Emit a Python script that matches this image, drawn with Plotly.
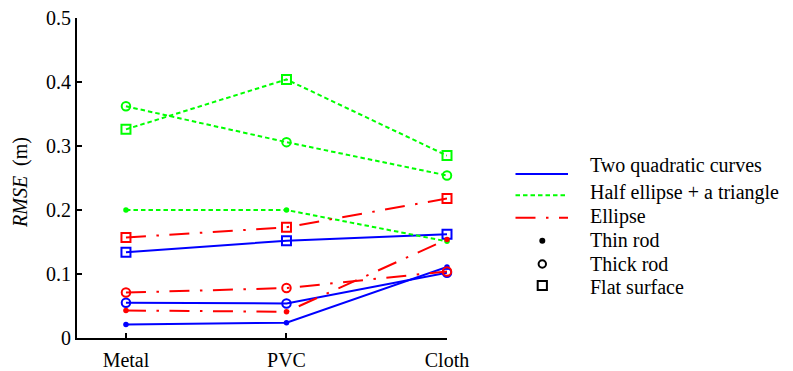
import plotly.graph_objects as go

# Surface materials along the x axis
materials = ["Metal", "PVC", "Cloth"]
x_pos = [1, 2, 3]

# RMSE (m) per fitted model and object
two_quad_thin = [0.021, 0.024, 0.111]
two_quad_thick = [0.055, 0.054, 0.102]
two_quad_flat = [0.134, 0.152, 0.162]

half_ell_thin = [0.200, 0.200, 0.151]
half_ell_thick = [0.362, 0.306, 0.254]
half_ell_flat = [0.326, 0.404, 0.285]

ellipse_thin = [0.043, 0.041, 0.154]
ellipse_thick = [0.071, 0.078, 0.104]
ellipse_flat = [0.157, 0.173, 0.218]

y_ticks = [0, 0.1, 0.2, 0.3, 0.4, 0.5]
y_tick_labels = ["0", "0.1", "0.2", "0.3", "0.4", "0.5"]

model_names = ["Two quadratic curves", "Half ellipse + a triangle", "Ellipse"]
object_names = ["Thin rod", "Thick rod", "Flat surface"]

BLUE, GREEN, RED = "#0000ff", "#00ff00", "#ff0000"
DASH = {
    "solid": "solid",
    "dot": "4.5px,3px",
    "dashdot": "20px,10.5px,2.5px,10.5px",
}
FONT = "Times New Roman, Times, Liberation Serif, DejaVu Serif, serif"

W, H = 793, 371
L, R, T, B = 77, 346, 18, 33
PW, PH = W - L - R, H - T - B


def px(xp):
    return (xp - L) / PW


def py(yp):
    return (H - B - yp) / PH


models = [
    (BLUE, DASH["solid"], [two_quad_thin, two_quad_thick, two_quad_flat]),
    (GREEN, DASH["dot"], [half_ell_thin, half_ell_thick, half_ell_flat]),
    (RED, DASH["dashdot"], [ellipse_thin, ellipse_thick, ellipse_flat]),
]
marker_styles = [
    dict(symbol="circle", size=5.5, line=dict(width=0)),
    dict(symbol="circle-open", size=8.5, line=dict(width=2)),
    dict(symbol="square-open", size=9, line=dict(width=2)),
]

fig = go.Figure()
for color, dash, series in models:
    for values, mstyle in zip(series, marker_styles):
        m = dict(mstyle)
        m["color"] = color
        m["line"] = dict(mstyle["line"], color=color)
        fig.add_trace(go.Scatter(
            x=x_pos, y=values, mode="lines+markers",
            line=dict(color=color, width=2, dash=dash),
            marker=m, cliponaxis=False, showlegend=False,
        ))

axis_common = dict(
    showline=True, linecolor="black", linewidth=2,
    ticks="inside", ticklen=5, tickwidth=1.5, tickcolor="black",
    showgrid=False, zeroline=False, automargin=False,
    tickfont=dict(family=FONT, size=20, color="black"),
)
fig.update_xaxes(range=[0.695, 3.0], tickvals=x_pos, ticktext=materials,
                 ticklabelstandoff=3, **axis_common)
fig.update_yaxes(range=[0, 0.5], tickvals=y_ticks, ticktext=y_tick_labels,
                 **axis_common)

shapes = []
annotations = []

# y axis title
annotations.append(dict(
    x=px(20), y=py(183), xref="paper", yref="paper",
    text="<i>RMSE</i>  (m)", textangle=-90, showarrow=False,
    xanchor="center", yanchor="middle",
    font=dict(family=FONT, size=20, color="black"),
))

# Legend: model line styles
legend_line_y = [174, 195.3, 217.7]
for (color, dash, _), yl in zip(models, legend_line_y):
    shapes.append(dict(
        type="line", xref="paper", yref="paper",
        x0=px(515.5), x1=px(568), y0=py(yl), y1=py(yl),
        line=dict(color=color, width=2, dash=dash),
    ))

# Legend: object markers
cx = 542.3
shapes.append(dict(type="circle", xref="paper", yref="paper",
                   x0=px(cx - 3), x1=px(cx + 3), y0=py(240.7 + 3), y1=py(240.7 - 3),
                   fillcolor="black", line=dict(width=0)))
shapes.append(dict(type="circle", xref="paper", yref="paper",
                   x0=px(cx - 3.7), x1=px(cx + 3.7), y0=py(264 + 3.7), y1=py(264 - 3.7),
                   line=dict(color="black", width=2)))
shapes.append(dict(type="rect", xref="paper", yref="paper",
                   x0=px(cx - 4.6), x1=px(cx + 4.6), y0=py(285.5 + 4.6), y1=py(285.5 - 4.6),
                   line=dict(color="black", width=2)))

legend_text_base = [171.7, 199.3, 223, 246.7, 270, 293.3]
for label, base in zip(model_names + object_names, legend_text_base):
    annotations.append(dict(
        x=px(588), y=py(base - 6.5), xref="paper", yref="paper",
        text=label, showarrow=False, xanchor="left", yanchor="middle",
        font=dict(family=FONT, size=20, color="black"),
    ))

fig.update_layout(
    width=W, height=H,
    margin=dict(l=L, r=R, t=T, b=B, pad=0),
    paper_bgcolor="white", plot_bgcolor="white",
    showlegend=False,
    shapes=shapes, annotations=annotations,
    font=dict(family=FONT, size=20, color="black"),
)

fig.write_html("out.html")
